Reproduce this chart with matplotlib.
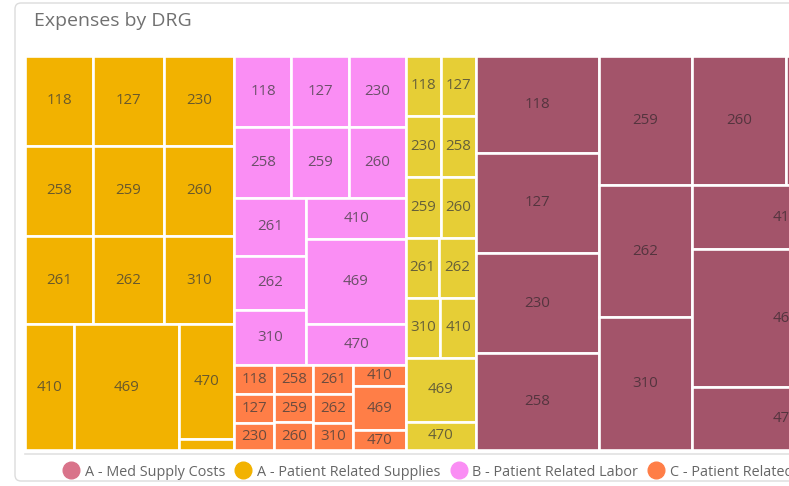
import matplotlib
matplotlib.use("Agg")
import matplotlib.pyplot as plt
from matplotlib.patches import Rectangle, FancyBboxPatch
from matplotlib.lines import Line2D

plt.rcParams['font.family'] = ['Open Sans', 'DejaVu Sans']

# --- Data: expenses by DRG for each cost category ---
drg_codes = ['118', '127', '230', '258', '259', '260', '261', '262',
             '310', '410', '469', '470', 'Other']

med_supply_costs = [11931, 12300, 12300, 11931, 11933, 12190, 11997, 12210,
                    12303, 12094, 25781, 11813, 0]
patient_supplies = [6120, 6390, 6345, 6120, 6390, 6345, 5984, 6248,
                    6204, 6237, 13230, 6325, 605]
patient_labor = [4047, 4083, 4012, 4047, 4083, 4012, 4140, 3924,
                 3960, 4010, 8465, 4059, 0]
patient_services = [1180, 1140, 1080, 1117, 1097, 1059, 1180, 1140,
                    1080, 1103, 2336, 1024, 0]
other_expenses = [2130, 2100, 2166, 2135, 2166, 2135, 1964, 2231,
                  2087, 2178, 4477, 2009, 0]

series_names = ['A - Med Supply Costs', 'A - Patient Related Supplies',
                'B - Patient Related Labor', 'C - Patient Related Services',
                'D - Other Expenses']
series_values = [med_supply_costs, patient_supplies, patient_labor,
                 patient_services, other_expenses]
cell_colors = ['#A3546A', '#F2B200', '#FA8EF4', '#FF7E47', '#E6CE36']
legend_colors = ['#D9738A', '#F2B200', '#FA8EF4', '#FF7E47', '#E6CE36']

# --- Layout structure (how the tiles are nested, 'h' = side by side, 'v' = stacked) ---
group_layout = {
    'A - Patient Related Supplies': ('v', [('h', ['118', '127', '230']),
                                           ('h', ['258', '259', '260']),
                                           ('h', ['261', '262', '310']),
                                           ('h', ['410', '469', ('v', ['470', 'Other'])])]),
    'B - Patient Related Labor': ('v', [('h', ['118', '127', '230']),
                                        ('h', ['258', '259', '260']),
                                        ('h', [('v', ['261', '262', '310']),
                                               ('v', ['410', '469', '470'])])]),
    'C - Patient Related Services': ('h', [('v', ['118', '127', '230']),
                                           ('v', ['258', '259', '260']),
                                           ('v', ['261', '262', '310']),
                                           ('v', ['410', '469', '470'])]),
    'D - Other Expenses': ('v', [('h', ['118', '127']), ('h', ['230', '258']),
                                 ('h', ['259', '260']), ('h', ['261', '262']),
                                 ('h', ['310', '410']), '469', '470']),
    'A - Med Supply Costs': ('h', [('v', ['118', '127', '230', '258']),
                                   ('v', ['259', '262', '310']),
                                   ('v', [('h', ['260', '261']), '410', '469', '470'])]),
}
top_layout = ('h', ['A - Patient Related Supplies',
                    ('v', ['B - Patient Related Labor', 'C - Patient Related Services']),
                    'D - Other Expenses', 'A - Med Supply Costs'])

lookup = {name: dict(zip(drg_codes, vals)) for name, vals in zip(series_names, series_values)}


def node_total(node, group):
    if isinstance(node, str):
        if group is None:
            return node_total(group_layout[node], node)
        return lookup[group][node]
    return sum(node_total(c, group) for c in node[1])


def slice_layout(node, x, y, w, h, group, out):
    if isinstance(node, str):
        if group is None:
            slice_layout(group_layout[node], x, y, w, h, node, out)
        elif lookup[group][node] > 0:
            out.append((group, node, x, y, w, h))
        return
    direction, children = node
    totals = [node_total(c, group) for c in children]
    whole = sum(totals)
    pos = 0.0
    for child, t in zip(children, totals):
        frac = t / whole
        if direction == 'h':
            slice_layout(child, x + pos * w, y, w * frac, h, group, out)
        else:
            slice_layout(child, x, y + pos * h, w, h * frac, group, out)
        pos += frac


cells = []
slice_layout(top_layout, 0.0, 0.0, 1.0, 1.0, None, cells)

# --- Figure ---
W, H = 789, 486
fig = plt.figure(figsize=(W / 100, H / 100), dpi=100)

# background card in pixel units
bg = fig.add_axes([0, 0, 1, 1])
bg.set_xlim(0, W)
bg.set_ylim(H, 0)
bg.axis('off')
bg.add_patch(FancyBboxPatch((15, 3), 900, 478, boxstyle='round,pad=0,rounding_size=6',
                            facecolor='white', edgecolor='#dcdcdc', linewidth=1.0))
bg.plot([25, 900], [453.5, 453.5], color='#e2e2e2', linewidth=1.2)
bg.text(34, 21, 'Expenses by DRG', fontsize=14, color='#707070', va='center', ha='left')

# treemap axes (extends past the right edge, as in the cropped reference)
plot_left, plot_top, plot_w, plot_h = 25, 56, 854, 394
ax = fig.add_axes([plot_left / W, 1 - (plot_top + plot_h) / H, plot_w / W, plot_h / H])
ax.set_xlim(0, 1)
ax.set_ylim(1, 0)
ax.axis('off')

color_of = dict(zip(series_names, cell_colors))
for group, code, x, y, w, h in cells:
    ax.add_patch(Rectangle((x, y), w, h, facecolor=color_of[group],
                           edgecolor='white', linewidth=1.9))
    if w * plot_w > 22 and h * plot_h > 15:
        txt_color = '#3a2a30' if group == 'A - Med Supply Costs' else '#3b3b3b'
        ax.text(x + w / 2, y + h / 2, code, ha='center', va='center',
                fontsize=10.8, color=txt_color, alpha=0.75)

# legend
handles = [Line2D([], [], linestyle='none', marker='o', markersize=12,
                  markerfacecolor=c, markeredgecolor=c) for c in legend_colors]
fig.legend(handles, series_names, loc='center left', ncol=5,
           bbox_to_anchor=(64.5 / W, 1 - 472 / H), frameon=False,
           fontsize=10.35, labelcolor='#666666', handlelength=0.9,
           handletextpad=0.52, columnspacing=0.8, borderaxespad=0, borderpad=0)

fig.savefig('out.png', dpi=100)
